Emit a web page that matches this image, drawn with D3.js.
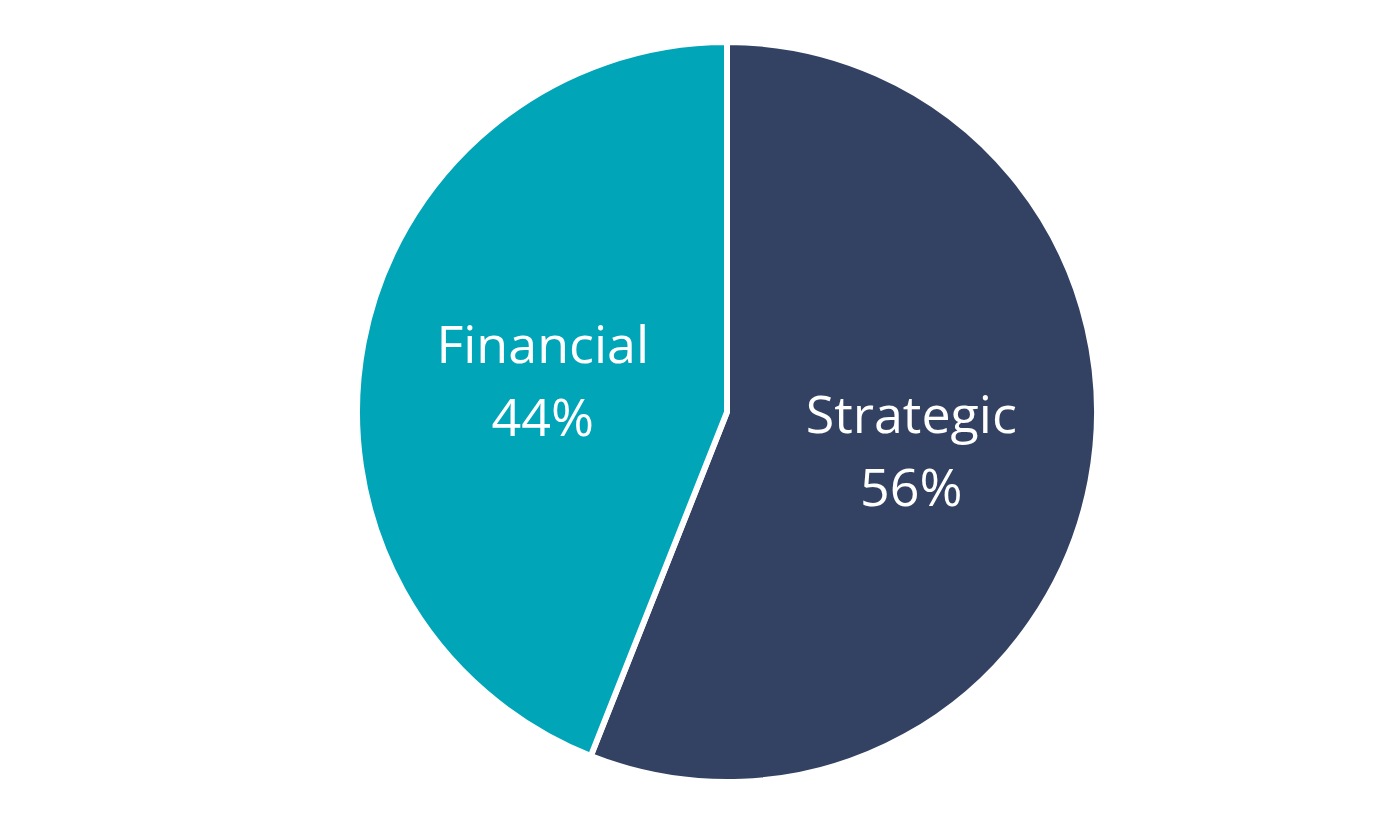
<!DOCTYPE html>
<html>
    <head>
        <script src="https://d3js.org/d3.v7.min.js"></script>
        <style>
            body { margin: 0; background: #fff; }
        </style>
    </head>
    <body>
        <div id="pie_vis"></div>
    </body>

    <script>
        // Data
        var categories = ["Strategic", "Financial"]
        var shares = [56, 44]
        var sliceColors = ["#334263", "#00A5B8"]

        var width = 1400
        var height = 815
        var cx = 727
        var cy = 412
        var radius = 370

        var svg = d3.select("#pie_vis")
            .append("svg")
                .attr("width", width)
                .attr("height", height)
            .append("g")
                .attr("transform", "translate(" + cx + "," + cy + ")");

        var pieData = categories.map((c, i) => ({name: c, value: shares[i], color: sliceColors[i]}))

        var pie = d3.pie()
            .value(d => d.value)
            .sort(null);

        var arc = d3.arc()
            .innerRadius(0)
            .outerRadius(radius);

        var arcs = pie(pieData)

        svg.selectAll("path")
            .data(arcs)
            .enter()
            .append("path")
                .attr("d", arc)
                .attr("fill", d => d.data.color)
                .attr("stroke", "#fff")
                .attr("stroke-width", 6)
                .attr("stroke-linejoin", "round");

        // labels: name + percent on two lines
        var labelArc = d3.arc()
            .innerRadius(radius * 0.507)
            .outerRadius(radius * 0.507)

        var labels = svg.selectAll(".lbl")
            .data(arcs)
            .enter()
            .append("text")
                .attr("class", "lbl")
                .attr("transform", d => {
                    var c = labelArc.centroid(d)
                    return "translate(" + c[0] + "," + c[1] + ")"
                })
                .attr("text-anchor", "middle")
                .attr("fill", "#fff")
                .attr("font-family", "'Open Sans', sans-serif")
                .attr("font-size", 52);

        labels.append("tspan")
            .attr("x", 0)
            .attr("dy", -14)
            .text(d => d.data.name);

        labels.append("tspan")
            .attr("x", 0)
            .attr("dy", 73)
            .text(d => d.data.value + "%");
    </script>
</html>
